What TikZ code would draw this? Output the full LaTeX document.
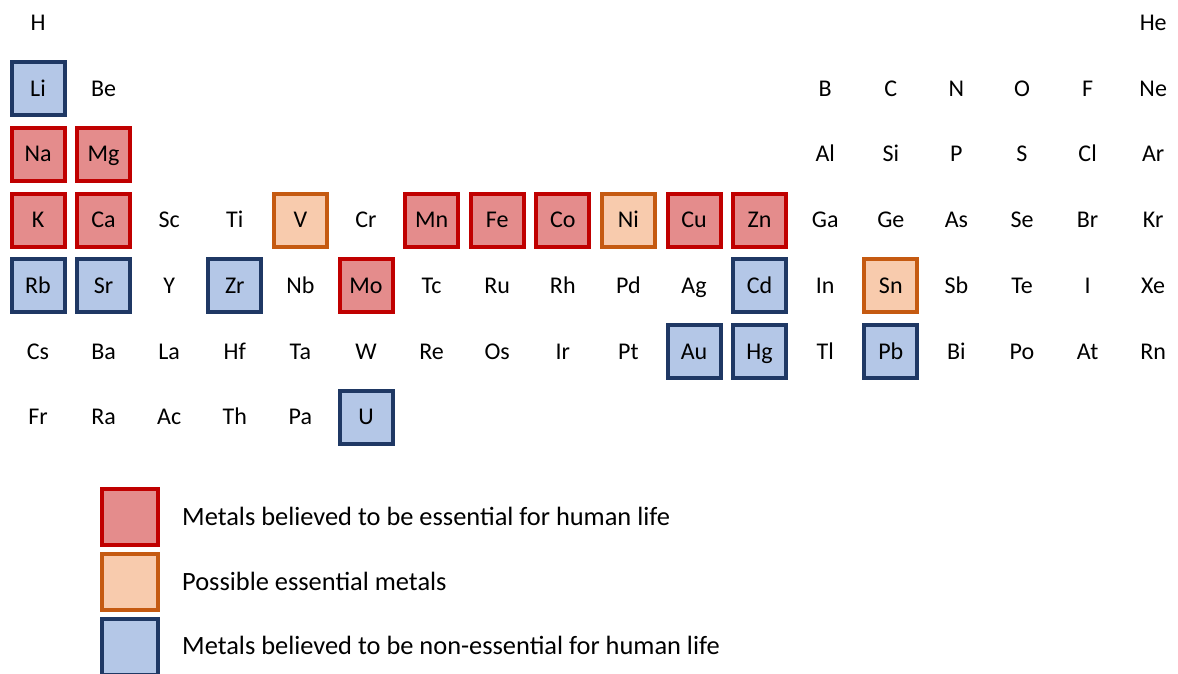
\documentclass[tikz,border=0pt]{standalone}
\usepackage{fontspec}
\setmainfont{Carlito}
\definecolor{redB}{HTML}{C00000}
\definecolor{redF}{HTML}{E48C8C}
\definecolor{oraB}{HTML}{C55A11}
\definecolor{oraF}{HTML}{F8CBAD}
\definecolor{bluB}{HTML}{1F3864}
\definecolor{bluF}{HTML}{B4C7E7}
\tikzset{
  el/.style={inner sep=0pt, minimum size=53pt, text height=16pt, text depth=1pt, font=\fontsize{24}{28}\selectfont},
  essbox/.style={el, draw=redB, fill=redF, line width=4pt},
  posbox/.style={el, draw=oraB, fill=oraF, line width=4pt},
  nonbox/.style={el, draw=bluB, fill=bluF, line width=4pt},
  legbox/.style={inner sep=0pt, minimum size=56pt, line width=4pt},
  legtxt/.style={anchor=west, inner sep=0pt, text height=18pt, text depth=1pt, font=\fontsize{26.4}{30}\selectfont}
}
\begin{document}
\begin{tikzpicture}[x=1pt,y=-1pt]
\useasboundingbox (0,0) rectangle (1178,673);
\def\colx#1{38+65.6*(#1-1)}
\def\rowy#1{23+65.7*(#1-1)}
% plain elements: col/row/symbol
\foreach \c/\r/\s in {
  1/1/H, 18/1/He,
  2/2/Be, 13/2/B, 14/2/C, 15/2/N, 16/2/O, 17/2/F, 18/2/Ne,
  13/3/Al, 14/3/Si, 15/3/P, 16/3/S, 17/3/Cl, 18/3/Ar,
  3/4/Sc, 4/4/Ti, 6/4/Cr, 13/4/Ga, 14/4/Ge, 15/4/As, 16/4/Se, 17/4/Br, 18/4/Kr,
  3/5/Y, 5/5/Nb, 7/5/Tc, 8/5/Ru, 9/5/Rh, 10/5/Pd, 11/5/Ag, 13/5/In, 15/5/Sb, 16/5/Te, 17/5/I, 18/5/Xe,
  1/6/Cs, 2/6/Ba, 3/6/La, 4/6/Hf, 5/6/Ta, 6/6/W, 7/6/Re, 8/6/Os, 9/6/Ir, 10/6/Pt, 13/6/Tl, 15/6/Bi, 16/6/Po, 17/6/At, 18/6/Rn,
  1/7/Fr, 2/7/Ra, 3/7/Ac, 4/7/Th, 5/7/Pa}
  \node[el] (\s) at ({\colx{\c}},{\rowy{\r}}) {\s};
% essential
\foreach \c/\r/\s in {1/3/Na, 2/3/Mg, 1/4/K, 2/4/Ca, 7/4/Mn, 8/4/Fe, 9/4/Co, 11/4/Cu, 12/4/Zn, 6/5/Mo}
  \node[essbox] (\s) at ({\colx{\c}},{\rowy{\r}}) {\s};
% possible
\foreach \c/\r/\s in {5/4/V, 10/4/Ni, 14/5/Sn}
  \node[posbox] (\s) at ({\colx{\c}},{\rowy{\r}}) {\s};
% non-essential
\foreach \c/\r/\s in {1/2/Li, 1/5/Rb, 2/5/Sr, 4/5/Zr, 12/5/Cd, 11/6/Au, 12/6/Hg, 14/6/Pb, 6/7/U}
  \node[nonbox] (\s) at ({\colx{\c}},{\rowy{\r}}) {\s};
% legend
\node[legbox, draw=redB, fill=redF] (l1) at (130,517) {};
\node[legbox, draw=oraB, fill=oraF] (l2) at (130,582) {};
\node[legbox, draw=bluB, fill=bluF] (l3) at (130,647) {};
\node[legtxt] (t1) at (182,517) {Metals believed to be essential for human life};
\node[legtxt] (t2) at (182,582) {Possible essential metals};
\node[legtxt] (t3) at (182,646) {Metals believed to be non-essential for human life};
\end{tikzpicture}
\end{document}
